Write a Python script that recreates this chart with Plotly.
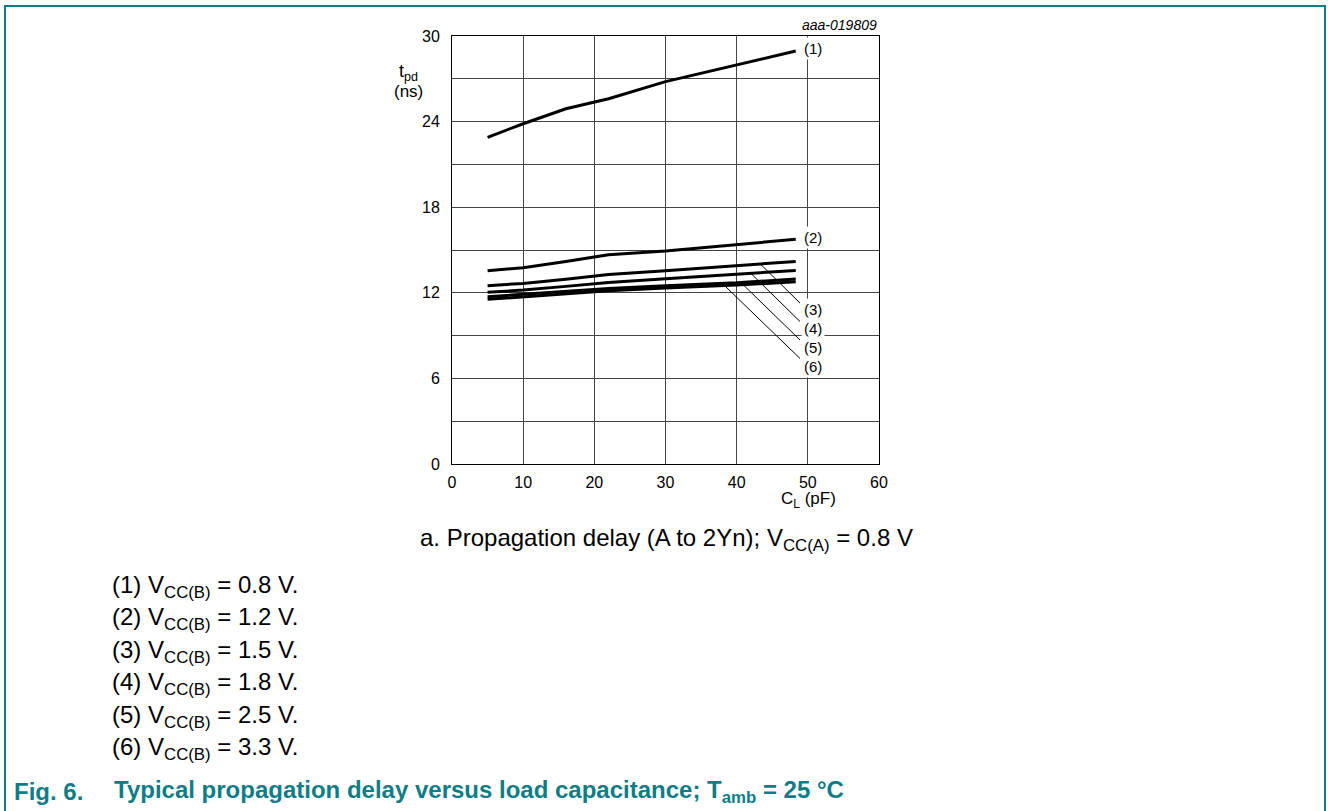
import numpy as np
import plotly.graph_objects as go

# ---------------- data ----------------
cl_pf = [5, 10, 16, 22, 30, 40, 48.3]
tpd_1 = [22.9, 23.85, 24.9, 25.6, 26.8, 27.95, 28.95]
tpd_2 = [13.55, 13.76, 14.2, 14.67, 14.93, 15.35, 15.75]
tpd_3 = [12.5, 12.66, 12.95, 13.29, 13.55, 13.92, 14.2]
tpd_4 = [12.03, 12.19, 12.45, 12.73, 12.99, 13.29, 13.57]
tpd_5 = [11.72, 11.89, 12.1, 12.31, 12.5, 12.7, 12.96]
tpd_6 = [11.54, 11.72, 11.93, 12.15, 12.33, 12.54, 12.78]
series = [tpd_1, tpd_2, tpd_3, tpd_4, tpd_5, tpd_6]
curve_labels = ["(1)", "(2)", "(3)", "(4)", "(5)", "(6)"]
vcc_b = ["0.8", "1.2", "1.5", "1.8", "2.5", "3.3"]
x_ticks = [0, 10, 20, 30, 40, 50, 60]
y_ticks = [0, 6, 12, 18, 24, 30]

# ---------------- layout constants ----------------
W, H = 1328, 811
L, R, T, B = 452, 879, 36, 464  # plot area in pixels
TEAL = "#0f7d87"
FONT = "Arial, Liberation Sans, sans-serif"


def pp(px, py):
    """pixel -> paper coordinates"""
    return (px - L) / (R - L), (B - py) / (B - T)


fig = go.Figure()
for s in series:
    fig.add_trace(go.Scatter(x=cl_pf, y=s, mode="lines",
                             line=dict(color="black", width=3),
                             showlegend=False, hoverinfo="skip"))

ann = []
shapes = []

# leader lines for (3)..(6): from a point on the curve to the label
leader_x = [43.3, 42.0, 40.6, 38.3]
leader_end = [(800, 303), (800, 321.5), (800, 340), (800, 358.5)]
for i, (lx, (ex, ey)) in enumerate(zip(leader_x, leader_end)):
    ly = float(np.interp(lx, cl_pf, series[i + 2]))
    x1 = (ex - L) / (R - L) * 60
    y1 = (B - ey) / (B - T) * 30
    shapes.append(dict(type="line", xref="x", yref="y", x0=lx, y0=ly, x1=x1, y1=y1,
                       line=dict(color="black", width=1)))

# curve labels
label_pos = [(801, 48), (801, 237), (801, 309), (801, 328), (801, 347), (801, 366)]
for txt, (px, py) in zip(curve_labels, label_pos):
    x, y = pp(px, py)
    ann.append(dict(xref="paper", yref="paper", x=x, y=y, text=txt, showarrow=False,
                    xanchor="left", yanchor="middle", bgcolor="white", borderpad=2,
                    font=dict(family=FONT, size=15, color="black")))

# figure id
x, y = pp(879, 25)
ann.append(dict(xref="paper", yref="paper", x=x, y=y, text="<i>aaa-019809</i>", showarrow=False,
                xanchor="right", yanchor="middle",
                font=dict(family=FONT, size=14, color="black")))

# y axis title
x, y = pp(408, 72)
ann.append(dict(xref="paper", yref="paper", x=x, y=y, text="t<sub>pd</sub>", showarrow=False,
                xanchor="center", yanchor="middle", font=dict(family=FONT, size=18, color="black")))
x, y = pp(408, 91)
ann.append(dict(xref="paper", yref="paper", x=x, y=y, text="(ns)", showarrow=False,
                xanchor="center", yanchor="middle", font=dict(family=FONT, size=17, color="black")))

# x axis title
x, y = pp(808, 500)
ann.append(dict(xref="paper", yref="paper", x=x, y=y, text="C<sub>L</sub> (pF)", showarrow=False,
                xanchor="center", yanchor="middle", font=dict(family=FONT, size=17, color="black")))

# sub caption
x, y = pp(666, 539)
ann.append(dict(xref="paper", yref="paper", x=x, y=y,
                text="a. Propagation delay (A to 2Yn); V<sub>CC(A)</sub> = 0.8 V", showarrow=False,
                xanchor="center", yanchor="middle", font=dict(family=FONT, size=24, color="black")))

# notes
note_y = [586, 618.5, 651, 683.5, 716, 748.5]
for lab, v, ny in zip(curve_labels, vcc_b, note_y):
    x, y = pp(110, ny)
    ann.append(dict(xref="paper", yref="paper", x=x, y=y,
                    text=f"{lab} V<sub>CC(B)</sub> = {v} V.", showarrow=False,
                    xanchor="left", yanchor="middle", font=dict(family=FONT, size=24, color="black")))

# figure caption
x, y = pp(12, 792)
ann.append(dict(xref="paper", yref="paper", x=x, y=y, text="<b>Fig. 6.</b>", showarrow=False,
                xanchor="left", yanchor="middle", font=dict(family=FONT, size=24, color=TEAL)))
x, y = pp(112, 792)
ann.append(dict(xref="paper", yref="paper", x=x, y=y,
                text="<b>Typical propagation delay versus load capacitance; T<sub>amb</sub> = 25 °C</b>",
                showarrow=False, xanchor="left", yanchor="middle",
                font=dict(family=FONT, size=24, color=TEAL)))

# outer frame
x0, y0 = pp(5, 6)
x1, y1 = pp(1325, 830)
shapes.append(dict(type="rect", xref="paper", yref="paper", x0=x0, y0=y0, x1=x1, y1=y1,
                   line=dict(color=TEAL, width=2), fillcolor="rgba(0,0,0,0)", layer="below"))

fig.update_layout(
    width=W, height=H,
    margin=dict(l=L, r=W - R, t=T, b=H - B, pad=0),
    paper_bgcolor="white", plot_bgcolor="white",
    annotations=ann, shapes=shapes,
    font=dict(family=FONT, size=15, color="black"),
)
fig.update_xaxes(range=[0, 60], tickvals=x_ticks, ticktext=[str(t) for t in x_ticks],
                 showgrid=True, gridcolor="#444", gridwidth=1, zeroline=False,
                 showline=True, linecolor="black", linewidth=1, mirror=True,
                 ticks="", ticklabelstandoff=4,
                 tickfont=dict(family=FONT, size=16, color="black"))
fig.update_yaxes(range=[0, 30], tickvals=y_ticks, ticktext=[str(t) for t in y_ticks],
                 showgrid=True, gridcolor="#444", gridwidth=1, zeroline=False,
                 showline=True, linecolor="black", linewidth=1, mirror=True,
                 ticks="", ticklabelstandoff=8,
                 minor=dict(dtick=3, showgrid=True, gridcolor="#444", gridwidth=1, tick0=0),
                 tickfont=dict(family=FONT, size=16, color="black"))

fig.write_html("out.html", config={"displayModeBar": False},
               post_script="document.body.style.margin='0';document.body.style.overflow='hidden';")
